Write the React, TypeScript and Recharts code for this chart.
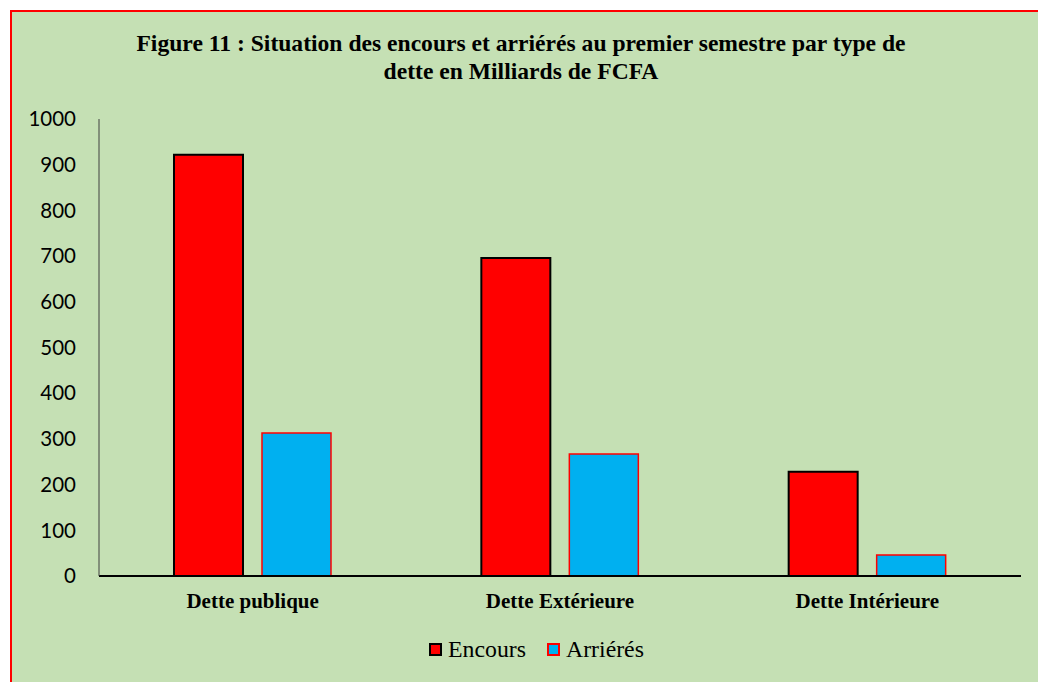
import { BarChart, Bar, XAxis, YAxis } from 'recharts';

const categories = ['Dette publique', 'Dette Extérieure', 'Dette Intérieure'];
const encours = [922, 696, 228];
const arrieres = [313, 267, 46];
const yTicks = [0, 100, 200, 300, 400, 500, 600, 700, 800, 900, 1000];
const seriesNames = ['Encours', 'Arriérés'];

const data = categories.map((c, i) => ({ name: c, encours: encours[i], arrieres: arrieres[i] }));

const serif = '"Liberation Serif", "Times New Roman", serif';

export default function App() {
  return (
    <div style={{ position: 'absolute', left: 0, top: 0, width: 1038, height: 682, background: '#fff', overflow: 'hidden' }}>
      <div style={{
        position: 'absolute', left: 10, top: 10, width: 1040, height: 700,
        background: '#C5E0B4', borderLeft: '2px solid #FF0000', borderTop: '2px solid #FF0000',
      }} />
      {/* titre */}
      <div style={{
        position: 'absolute', left: 0, top: 29, width: 1042, textAlign: 'center',
        fontFamily: serif, fontWeight: 700, fontSize: 23.6, lineHeight: '28px', color: '#000',
      }}>
        Figure 11 : Situation des encours et arriérés au premier semestre par type de<br />
        dette en Milliards de FCFA
      </div>
      <div style={{ position: 'absolute', left: 0, top: 0 }}>
        <BarChart width={1038} height={682} data={data} barSize={69} barGap={19}
          margin={{ top: 119, right: 17, bottom: 76, left: 10 }}>
          <XAxis dataKey="name" height={30} tickLine={false} tickSize={0} tickMargin={17}
            axisLine={{ stroke: '#000', strokeWidth: 2 }}
            tick={{ fontFamily: serif, fontWeight: 700, fontSize: 21, fill: '#000' }} />
          <YAxis width={89} domain={[0, 1000]} ticks={yTicks} interval={0} tickLine={false} tickSize={0} tickMargin={23}
            axisLine={{ stroke: '#404040', strokeWidth: 1 }}
            tick={{ fontFamily: 'Lato, sans-serif', fontSize: 20.5, fill: '#000' }} />
          <Bar dataKey="encours" name={seriesNames[0]} fill="#FF0000" stroke="#000" strokeWidth={2} isAnimationActive={false} />
          <Bar dataKey="arrieres" name={seriesNames[1]} fill="#00B0F0" stroke="#FF0000" strokeWidth={1.5} isAnimationActive={false} />
        </BarChart>
      </div>
      {/* légende */}
      <div style={{
        position: 'absolute', left: 429, top: 636, display: 'flex',
        gap: 21, fontFamily: serif, fontSize: 23.8, color: '#000',
      }}>
        {seriesNames.map((n, i) => (
          <div key={n} style={{ display: 'flex', alignItems: 'center' }}>
            <span style={{
              display: 'inline-block', width: 9, height: 9, marginRight: 6,
              background: i === 0 ? '#FF0000' : '#00B0F0',
              border: i === 0 ? '2px solid #000' : '2px solid #FF0000',
            }} />
            {n}
          </div>
        ))}
      </div>
    </div>
  );
}
